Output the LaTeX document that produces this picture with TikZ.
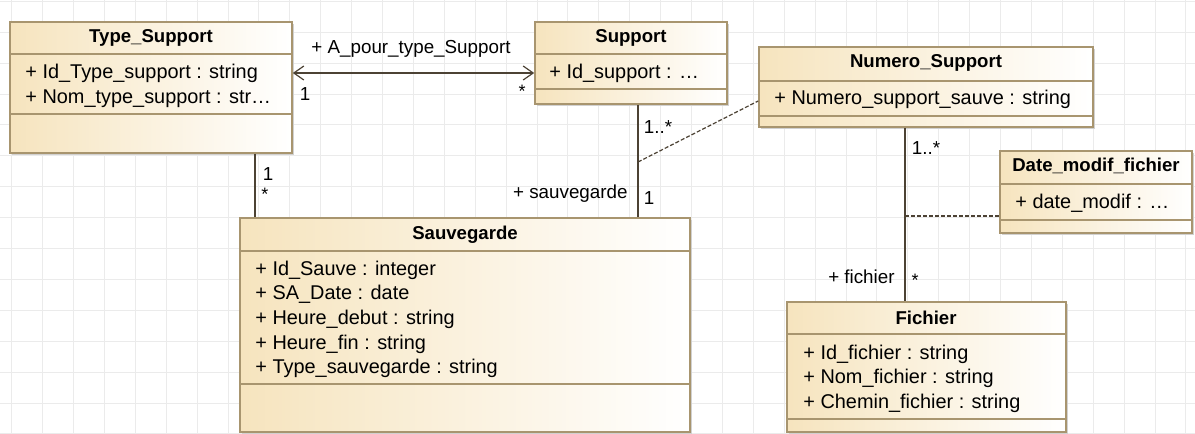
\documentclass[tikz,border=0pt]{standalone}
\usepackage{fontspec}
\setmainfont{Liberation Sans}
\usetikzlibrary{arrows.meta,fit,shadows}
\definecolor{umlfill}{HTML}{F6E4BE}
\definecolor{umlline}{HTML}{A8956F}
\definecolor{linkcol}{HTML}{4C4234}
\definecolor{gridcol}{HTML}{EBEBEB}
\tikzset{>={Straight Barb[length=5pt,width=7pt]},
  umlbox/.style={draw=umlline, line width=0.8pt, left color=umlfill, right color=white, inner sep=0pt,
    general shadow={fill=black!18, shadow xshift=1pt, shadow yshift=-1pt}},
  sep/.style={draw=umlline, line width=0.8pt},
  title/.style={font=\fontsize{9.3}{11}\selectfont\bfseries, inner sep=0pt},
  attr/.style={font=\fontsize{9.95}{11}\selectfont, anchor=west, inner sep=0pt, text height=1.6ex, text depth=0.45ex},
  role/.style={font=\fontsize{9.4}{11}\selectfont, inner sep=0pt, text height=1.6ex, text depth=0.45ex},
  link/.style={draw=linkcol, line width=0.6pt},
  note/.style={draw=linkcol, line width=0.6pt, dash pattern=on 2pt off 1pt},
  gridline/.style={draw=gridcol, line width=0.5pt}}

\begin{document}
\begin{tikzpicture}[x=0.5pt,y=-0.5pt]
\useasboundingbox (0,0) rectangle (1195,434);
\fill[white] (0,0) rectangle (1195,434);
\foreach \k in {0,...,38} \draw[gridline] ({11.7+30.9*\k},0) -- ({11.7+30.9*\k},434);
\foreach \k in {0,...,14} \draw[gridline] (0,{1.3+30.9*\k}) -- (1195,{1.3+30.9*\k});

\node[umlbox, fit={(10,22) (292,153)}] (typesup) {};
\draw[sep] (10,54) -- (292,54) (10,114) -- (292,114);
\node[title] (typesupT) at (151,38) {Type\_Support};
\node[attr] (typesupA1) at (25,72) {+ Id\_Type\_support : string};
\node[attr] (typesupA2) at (25,97) {+ Nom\_type\_support : str…};

\node[umlbox, fit={(535,22) (727,104)}] (support) {};
\draw[sep] (535,54) -- (727,54) (535,89) -- (727,89);
\node[title] (supportT) at (631,38) {Support};
\node[attr] (supportA1) at (549,72) {+ Id\_support : …};

\node[umlbox, fit={(759,47) (1093,127)}] (numsup) {};
\draw[sep] (759,81) -- (1093,81) (759,116) -- (1093,116);
\node[title] (numsupT) at (926,63) {Numero\_Support};
\node[attr] (numsupA1) at (774,98) {+ Numero\_support\_sauve : string};

\node[umlbox, fit={(1000,151) (1192,233)}] (datemod) {};
\draw[sep] (1000,184) -- (1192,184) (1000,220) -- (1192,220);
\node[title] (datemodT) at (1096,166) {Date\_modif\_fichier};
\node[attr] (datemodA1) at (1015,202) {+ date\_modif : …};

\node[umlbox, fit={(240,218) (690,432)}] (sauve) {};
\draw[sep] (240,251) -- (690,251) (240,384) -- (690,384);
\node[title] (sauveT) at (465,235) {Sauvegarde};
\foreach \t [count=\i] in {+ Id\_Sauve : integer, + SA\_Date : date, + Heure\_debut : string,
  + Heure\_fin : string, + Type\_sauvegarde : string}
  \node[attr] (sauveA\i) at (255,{269+24.7*(\i-1)}) {\t};

\node[umlbox, fit={(787,302) (1066,432)}] (fichier) {};
\draw[sep] (787,334) -- (1066,334) (787,419) -- (1066,419);
\node[title] (fichierT) at (926,318) {Fichier};
\foreach \t [count=\i] in {+ Id\_fichier : string, + Nom\_fichier : string, + Chemin\_fichier : string}
  \node[attr] (fichierA\i) at (803,{353+24.5*(\i-1)}) {\t};

\draw[link,<->] (typesup.east |- 0,73) -- (support.west |- 0,73);
\node[role] (aptS) at (411,47) {+ A\_pour\_type\_Support};
\node[role] (aptM1) at (305,94) {1};
\node[role] (aptM2) at (522,91) {\small *};

\draw[link] (typesup.south -| 255,0) -- (sauve.north -| 255,0);
\node[role] (tsM1) at (268,174) {1};
\node[role] (tsM2) at (265,194) {\small *};

\draw[link] (support.south -| 638,0) -- (sauve.north -| 638,0);
\node[role] (svM1) at (658,127) {1..*};
\node[role, anchor=east] (svS) at (628,192) {+ sauvegarde};
\node[role] (svM2) at (649,198) {1};
\coordinate (assoc1) at (638,162);
\draw[note] (assoc1) -- (numsup.west |- 0,101);

\draw[link] (numsup.south -| 905,0) -- (fichier.north -| 905,0);
\node[role] (fiM1) at (926,148) {1..*};
\node[role, anchor=east] (fiS) at (895,277) {+ fichier};
\node[role] (fiM2) at (915,280) {\small *};
\coordinate (assoc2) at (905,216);
\draw[note] (assoc2) -- (datemod.west |- 0,216);
\end{tikzpicture}
\end{document}
